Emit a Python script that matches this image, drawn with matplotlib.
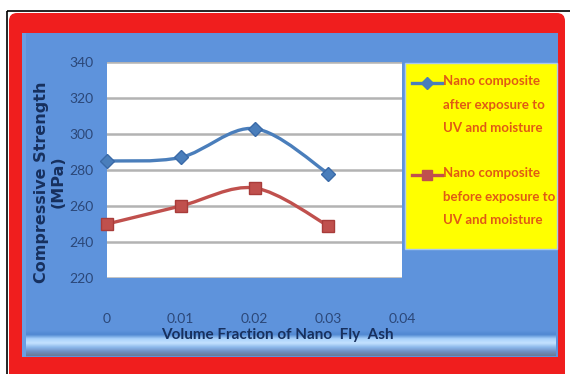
import numpy as np
import matplotlib
matplotlib.use("Agg")
import matplotlib.pyplot as plt
from matplotlib.patches import Rectangle, FancyBboxPatch
from matplotlib.path import Path
from matplotlib.patches import PathPatch
from matplotlib.lines import Line2D

# data
fraction = [0.0, 0.01, 0.02, 0.03]
after_uv = [285, 287, 303, 278]
before_uv = [250, 260, 270, 249]
series_labels = ["Nano composite\nafter exposure to\nUV and moisture",
                 "Nano composite\nbefore exposure to\nUV and moisture"]
x_ticks = [0, 0.01, 0.02, 0.03, 0.04]
x_ticklabels = ["0", "0.01", "0.02", "0.03", "0.04"]
y_ticks = [220, 240, 260, 280, 300, 320, 340]

W, H = 570, 374
narrow = ["Lato", "DejaVu Sans"]
tick_col = "#2b4778"
navy = "#17305e"
leg_txt = "#e05a14"
blue_c = "#4a7ebb"
red_c = "#c0504d"

fig = plt.figure(figsize=(W / 100, H / 100), dpi=100)
fig.patch.set_facecolor("white")

# frame drawn in pixel coordinates
bg = fig.add_axes([0, 0, 1, 1], zorder=0)
bg.set_xlim(0, W)
bg.set_ylim(H, 0)
bg.axis("off")
bg.add_patch(Rectangle((7, 11), 570, 380, facecolor="none", edgecolor="black", lw=1.2))
bg.add_patch(FancyBboxPatch((9, 13), 556, 372, boxstyle="round,pad=0,rounding_size=8",
                            facecolor="#f01e1e", edgecolor="none"))
bg.add_patch(Rectangle((22, 33), 536, 324, facecolor="#5e93dc", edgecolor="none"))
# bevel strip along the bottom
grad = np.linspace(0, 1, 40).reshape(-1, 1)
cmap = matplotlib.colors.LinearSegmentedColormap.from_list(
    "bev", ["#5e93dc", "#5088d2", "#a9d2fb", "#c4e2ff", "#8cb8ea", "#6f90c4", "#6a7b98"])
bg.imshow(grad, extent=(24, 556, 356, 330), aspect="auto", cmap=cmap, zorder=1)
bg.add_patch(Rectangle((22, 33), 4, 324, facecolor="#6b9ee2", edgecolor="none", zorder=2))

# legend panel
bg.add_patch(Rectangle((405, 63), 152, 186, facecolor="#ffff00", edgecolor="#a9c8ee", lw=1.0, zorder=2))

ax = fig.add_axes([107 / W, 1 - 278 / H, (402 - 107) / W, (278 - 62) / H], zorder=2)
ax.set_facecolor("white")
ax.set_xlim(0, 0.04)
ax.set_ylim(220, 340)
for s in ax.spines.values():
    s.set_visible(False)
ax.set_yticks(y_ticks)
ax.set_xticks(x_ticks)
ax.set_xticklabels(x_ticklabels)
ax.tick_params(length=0, labelcolor=tick_col, labelsize=10)
ax.tick_params(axis="x", pad=25)
ax.tick_params(axis="y", pad=10)
for lab in ax.get_xticklabels() + ax.get_yticklabels():
    lab.set_family(narrow)
ax.grid(axis="y", color="#b3b3b3", lw=1.8)
ax.set_axisbelow(True)


def smooth_path(xs, ys):
    # Catmull-Rom style cubic Bezier through the points
    pts = np.column_stack([xs, ys]).astype(float)
    ext = np.vstack([pts[0], pts, pts[-1]])
    verts = [pts[0]]
    codes = [Path.MOVETO]
    for i in range(len(pts) - 1):
        p0, p1, p2, p3 = ext[i], ext[i + 1], ext[i + 2], ext[i + 3]
        verts += [p1 + (p2 - p0) / 6, p2 - (p3 - p1) / 6, p2]
        codes += [Path.CURVE4] * 3
    return Path(verts, codes)


ax.add_patch(PathPatch(smooth_path(fraction, after_uv), facecolor="none",
                       edgecolor=blue_c, lw=2.4, clip_on=False, zorder=3))
ax.add_patch(PathPatch(smooth_path(fraction, before_uv), facecolor="none",
                       edgecolor=red_c, lw=2.4, clip_on=False, zorder=3))
ax.plot(fraction, after_uv, ls="none", marker="D", ms=7, color=blue_c,
        mec="#3a6aa8", clip_on=False, zorder=4)
ax.plot(fraction, before_uv, ls="none", marker="s", ms=9, color=red_c,
        mec="#a83c3a", clip_on=False, zorder=4)

# legend entries
for lab, y0, col, mk, ms in [(series_labels[0], 83, blue_c, "D", 6),
                             (series_labels[1], 175, red_c, "s", 7)]:
    bg.add_line(Line2D([412, 442], [y0, y0], color=col, lw=2.4, zorder=3))
    bg.add_line(Line2D([427], [y0], marker=mk, ms=ms, color=col, zorder=4))
    bg.text(443, y0 - 8, lab, color=leg_txt, fontsize=9.5, fontweight="bold",
            family=narrow, va="top", ha="left", linespacing=2.15, zorder=4)

# axis titles
bg.text(50, 182, "Compressive Strength\n(MPa)", rotation=90, ha="center", va="center",
        color=navy, fontsize=11.5, fontweight="bold", linespacing=1.1, zorder=4)
bg.text(277, 335, "Volume Fraction of Nano  Fly  Ash", ha="center", va="center",
        color=navy, fontsize=11, fontweight="bold", family=narrow, zorder=4)

fig.savefig("out.png", dpi=100)
